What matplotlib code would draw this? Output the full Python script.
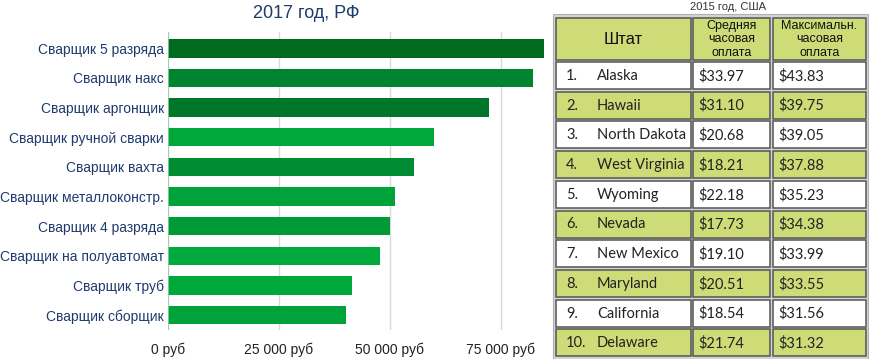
import matplotlib
matplotlib.use("Agg")
import matplotlib.pyplot as plt
from matplotlib.patches import Rectangle

plt.rcParams['font.family'] = ['Liberation Sans', 'DejaVu Sans']

# ---- data ----
jobs = ["Сварщик 5 разряда", "Сварщик накс", "Сварщик аргонщик",
        "Сварщик ручной сварки", "Сварщик вахта", "Сварщик металлоконстр.",
        "Сварщик 4 разряда", "Сварщик на полуавтомат", "Сварщик труб",
        "Сварщик сборщик"]
salaries = [84700, 82300, 72300, 59900, 55500, 51200, 49900, 47700, 41400, 40000]
bar_colors = ["#006A1E", "#00842F", "#00762A", "#00A83C", "#008C33",
              "#00A23A", "#009A37", "#00AA3D", "#00A83C", "#00A23A"]
xticks = [0, 25000, 50000, 75000]
xtick_labels = ["0 руб", "25 000 руб", "50 000 руб", "75 000 руб"]
chart_title = "2017 год, РФ"

table_title = "2015 год, США"
header = ["Штат", "Средняя\nчасовая\nоплата", "Максимальн.\nчасовая\nоплата"]
ranks = ["1.", "2.", "3.", "4.", "5.", "6.", "7.", "8.", "9.", "10."]
states = ["Alaska", "Hawaii", "North Dakota", "West Virginia", "Wyoming",
          "Nevada", "New Mexico", "Maryland", "California", "Delaware"]
avg_pay = ["$33.97", "$31.10", "$20.68", "$18.21", "$22.18",
           "$17.73", "$19.10", "$20.51", "$18.54", "$21.74"]
max_pay = ["$43.83", "$39.75", "$39.05", "$37.88", "$35.23",
           "$34.38", "$33.99", "$33.55", "$31.56", "$31.32"]

W, H = 870, 359
fig = plt.figure(figsize=(W / 100, H / 100), dpi=100)

# ---- bar chart ----
x0, x1 = 168, 168 + 86000 * 111 / 25000
y_top, y_bot = 32, 330
ax = fig.add_axes([x0 / W, (H - y_bot) / H, (x1 - x0) / W, (y_bot - y_top) / H])
pos = list(range(len(jobs)))
ax.barh(pos, salaries, height=0.62, color=bar_colors, zorder=3)
ax.set_xlim(0, 86000)
ax.set_ylim(9.5, -0.55)
ax.set_yticks(pos)
ax.set_yticklabels(jobs, fontsize=10, color="#1F3A6E")
ax.set_xticks(xticks)
ax.set_xticklabels(xtick_labels, fontsize=10, color="#222222")
ax.tick_params(axis="both", length=0)
ax.tick_params(axis="y", pad=3)
ax.tick_params(axis="x", pad=9)
for s in ax.spines.values():
    s.set_visible(False)
ax.grid(axis="x", color="#D9D9D9", linewidth=1, zorder=0)
ax.axvline(0, color="#8FD19E", linewidth=1.2, zorder=4)
fig.text(306 / W, 1 - 13 / H, chart_title, ha="center", va="center",
         fontsize=13, color="#1F3A6E")

# ---- table ----
tax = fig.add_axes([0, 0, 1, 1])
tax.set_xlim(0, W)
tax.set_ylim(H, 0)
tax.axis("off")
tax.add_patch(Rectangle((553, 14), 315, 345, facecolor="#D4D4D4",
                        edgecolor="#B0B0B0", linewidth=0.8))
cols = [(556, 691), (693, 770), (773, 866)]
green = "#CEDC78"
edge = "#555555"

def cell(x, y, w, h, fc):
    tax.add_patch(Rectangle((x, y), w, h, facecolor=fc, edgecolor=edge,
                            linewidth=1.1))

# header
for (a, b), txt in zip(cols, header):
    cell(a, 18, b - a, 42, green)
fs_h = [12, 9, 9]
for (a, b), txt, fs in zip(cols, header, fs_h):
    tax.text((a + b) / 2, 39.5, txt, ha="center", va="center", fontsize=fs,
             color="#111111", linespacing=1.12)

row_top0, row_step, row_h = 62, 29.7, 27
for i in range(len(states)):
    y = row_top0 + i * row_step
    fc = "white" if i % 2 == 0 else green
    for a, b in cols:
        cell(a, y, b - a, row_h, fc)
    yc = y + row_h / 2 + 0.5
    kw = dict(va="center", fontsize=10.5, color="#222222",
              family=["Lato", "DejaVu Sans"])
    tax.text(566, yc, ranks[i], ha="left", **kw)
    tax.text(597, yc, states[i], ha="left", **kw)
    tax.text(698, yc, avg_pay[i], ha="left", **kw)
    tax.text(778, yc, max_pay[i], ha="left", **kw)

fig.text(728 / W, 1 - 7 / H, table_title, ha="center", va="center",
         fontsize=8, color="#333333")

fig.savefig("out.png", dpi=100)
